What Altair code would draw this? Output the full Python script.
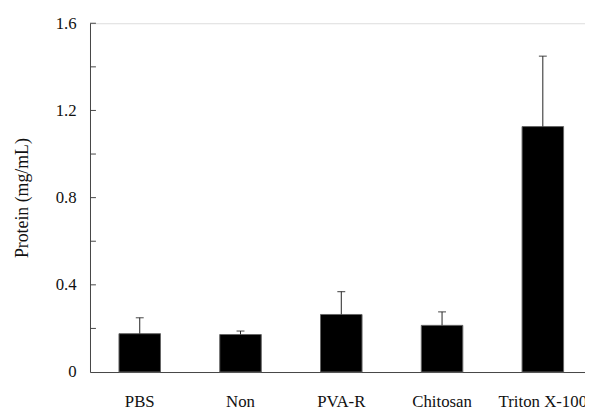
import altair as alt
import pandas as pd

categories = ["PBS", "Non", "PVA-R", "Chitosan", "Triton X-100"]
means = [0.176, 0.172, 0.264, 0.214, 1.126]
errors = [0.073, 0.016, 0.105, 0.062, 0.323]
y_ticks = [0.2, 0.4, 0.6, 0.8, 1.0, 1.2, 1.4, 1.6]
y_labels = [0, 0.4, 0.8, 1.2, 1.6]

df = pd.DataFrame({"cat": categories, "mean": means, "err": errors})
df["upper"] = df["mean"] + df["err"]
ticks_df = pd.DataFrame({"v": y_ticks})

FONT = "Liberation Serif"

xscale = alt.Scale(domain=categories, paddingInner=0.588, paddingOuter=0.25, align=0.575)
yscale = alt.Scale(domain=[0, 1.6], nice=False, zero=True)

x_enc = alt.X("cat:N", scale=xscale, sort=categories,
              axis=alt.Axis(title=None, labelAngle=0, ticks=False, labelPadding=22,
                            labelFont=FONT, labelFontSize=17, labelColor="#111",
                            domainColor="#444", labelOverlap=False))

bars = alt.Chart(df).mark_bar(color="black", stroke="#666", strokeWidth=1).encode(
    x=x_enc,
    y=alt.Y("mean:Q", scale=yscale,
            axis=alt.Axis(title="Protein (mg/mL)", values=y_labels, ticks=False,
                          labelExpr="datum.value == 0 ? '0' : format(datum.value, '.1f')",
                          labelPadding=14, labelFont=FONT, labelFontSize=17,
                          labelColor="#111", titleFont=FONT, titleFontSize=18,
                          titleFontWeight="normal", titleColor="#111",
                          titlePadding=24, domainColor="#444", grid=False)),
)

err_rule = alt.Chart(df).mark_rule(color="#222", strokeWidth=1).encode(
    x=alt.X("cat:N", scale=xscale, sort=categories),
    y=alt.Y("mean:Q", scale=yscale),
    y2="upper:Q",
)

err_cap = alt.Chart(df).mark_tick(color="#222", thickness=1.2, size=8, orient="horizontal").encode(
    x=alt.X("cat:N", scale=xscale, sort=categories),
    y=alt.Y("upper:Q", scale=yscale),
)

inner_ticks = alt.Chart(ticks_df).mark_rule(color="#444", strokeWidth=1).encode(
    x=alt.value(0),
    x2=alt.value(6),
    y=alt.Y("v:Q", scale=yscale),
)

chart = alt.layer(bars, err_rule, err_cap, inner_ticks).properties(
    width=501,
    height=353,
    autosize=alt.AutoSizeParams(type="none"),
    padding={"left": 83, "top": 13, "right": 0, "bottom": 36},
).configure_view(stroke=None).configure(background="white", font=FONT).configure_axis(
    labelFont=FONT, titleFont=FONT
)

chart.save("out.html", embed_options={"renderer": "svg", "actions": False})
